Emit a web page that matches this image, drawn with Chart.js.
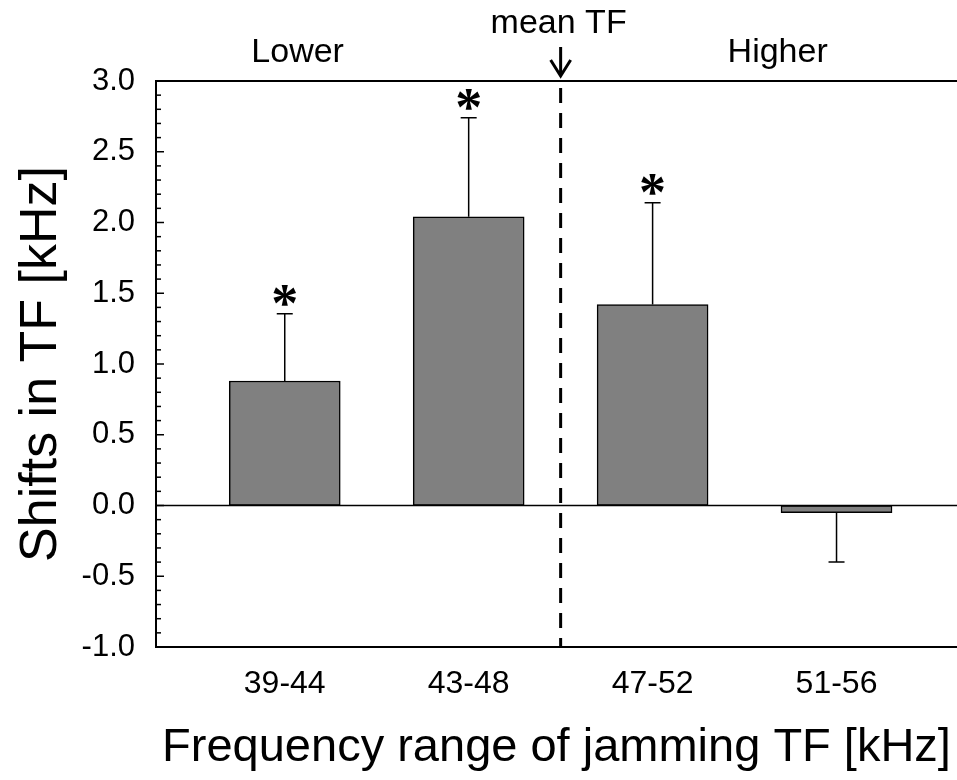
<!DOCTYPE html>
<html>
<head>
<meta charset="utf-8">
<script src="https://cdn.jsdelivr.net/npm/chart.js@4"></script>
<style>
html,body{margin:0;padding:0;background:#fff;}
#wrap{width:957px;height:780px;}
</style>
</head>
<body>
<div id="wrap"><canvas id="c" width="957" height="780"></canvas></div>
<script>
// ---- data ----
const categories = ['39-44', '43-48', '47-52', '51-56'];
const categoryPositions = [1, 2, 3, 4];
const shifts = [0.88, 2.04, 1.42, -0.05];
const errors = [0.475, 0.70, 0.72, 0.35];
const significant = [true, true, true, false];
const yMin = -1.0, yMax = 3.0;
const yMajorStep = 0.5, yMinorStep = 0.1;
const meanTFPosition = 2.5;
const lowerLabel = 'Lower', higherLabel = 'Higher', meanLabel = 'mean TF';
const lowerLabelPos = 1.07, higherLabelPos = 3.68;
const xTitle = 'Frequency range of jamming TF [kHz]';
const yTitle = 'Shifts in TF [kHz]';

const FONT = 'Liberation Sans, Arial, sans-serif';

const decor = {
  id: 'decor',
  afterDatasetsDraw(chart) {
    const {ctx, chartArea: a, scales: {x, y}} = chart;
    ctx.save();
    ctx.strokeStyle = '#000';
    ctx.fillStyle = '#000';
    // top frame line
    ctx.lineWidth = 2;
    ctx.beginPath(); ctx.moveTo(a.left, a.top); ctx.lineTo(a.right, a.top); ctx.stroke();
    // zero line
    const y0 = y.getPixelForValue(0);
    ctx.lineWidth = 1.5;
    ctx.beginPath(); ctx.moveTo(a.left, y0); ctx.lineTo(a.right, y0); ctx.stroke();
    // inner y ticks
    y.ticks.forEach(t => {
      const v = t.value;
      const py = y.getPixelForValue(v);
      const major = Math.abs(v / yMajorStep - Math.round(v / yMajorStep)) < 1e-6;
      if (py <= a.top + 1 || py >= a.bottom - 1) return;
      ctx.lineWidth = 1.5;
      ctx.beginPath(); ctx.moveTo(a.left, py); ctx.lineTo(a.left + (major ? 8 : 5), py); ctx.stroke();
    });
    // error bars
    const meta = chart.getDatasetMeta(0);
    meta.data.forEach((bar, i) => {
      const v = shifts[i];
      const end = v >= 0 ? v + errors[i] : v - errors[i];
      const px = x.getPixelForValue(categoryPositions[i]);
      const pv = y.getPixelForValue(v);
      const pe = y.getPixelForValue(end);
      ctx.lineWidth = 1.5;
      ctx.beginPath();
      ctx.moveTo(px, pv); ctx.lineTo(px, pe);
      ctx.moveTo(px - 8, pe); ctx.lineTo(px + 8, pe);
      ctx.stroke();
      if (significant[i]) {
        ctx.font = 'bold 54px "Liberation Serif", "Times New Roman", serif';
        ctx.textAlign = 'center';
        ctx.textBaseline = 'alphabetic';
        const m = ctx.measureText('*');
        const cy = pe - 18;
        const base = cy + (m.actualBoundingBoxAscent - m.actualBoundingBoxDescent) / 2;
        ctx.fillText('*', px, base);
      }
    });
    // dashed mean TF line
    const mx = x.getPixelForValue(meanTFPosition);
    ctx.lineWidth = 3;
    ctx.setLineDash([15, 10]);
    ctx.beginPath(); ctx.moveTo(mx, a.top + 7); ctx.lineTo(mx, a.bottom); ctx.stroke();
    ctx.setLineDash([]);
    // arrow
    ctx.lineWidth = 3;
    ctx.beginPath();
    ctx.moveTo(mx, a.top - 34); ctx.lineTo(mx, a.top - 5);
    ctx.moveTo(mx - 10, a.top - 21); ctx.lineTo(mx, a.top - 5); ctx.lineTo(mx + 10, a.top - 21);
    ctx.stroke();
    // annotations
    ctx.font = '34px ' + FONT;
    ctx.textAlign = 'center';
    ctx.textBaseline = 'middle';
    ctx.fillText(meanLabel, mx - 2, a.top - 57);
    ctx.fillText(lowerLabel, x.getPixelForValue(lowerLabelPos), a.top - 28);
    ctx.fillText(higherLabel, x.getPixelForValue(higherLabelPos), a.top - 28);
    ctx.restore();
  }
};

new Chart(document.getElementById('c'), {
  type: 'bar',
  data: {
    datasets: [{
      data: categoryPositions.map((p, i) => ({x: p, y: shifts[i]})),
      backgroundColor: '#808080',
      borderColor: '#000',
      borderWidth: 1.5,
      borderSkipped: false,
      barThickness: 111
    }]
  },
  options: {
    responsive: false,
    animation: false,
    devicePixelRatio: 1,
    layout: {padding: {top: 81, left: 0, right: 0, bottom: 0}},
    plugins: {legend: {display: false}, tooltip: {enabled: false}},
    scales: {
      x: {
        type: 'linear',
        offset: false,
        min: 0.3,
        max: 4.655,
        afterBuildTicks(s) { s.ticks = categoryPositions.map(v => ({value: v})); },
        afterFit(s) { s.height = 133; },
        ticks: {
          callback: v => categories[categoryPositions.indexOf(v)] ?? '',
          font: {family: FONT, size: 32},
          color: '#000',
          padding: 18,
          maxRotation: 0,
          autoSkip: false
        },
        grid: {display: false, drawTicks: false, offset: false},
        border: {display: true, color: '#000', width: 2},
        title: {display: true, text: xTitle, font: {family: FONT, size: 47}, color: '#000', padding: {top: 0, bottom: 4}}
      },
      y: {
        min: yMin,
        max: yMax,
        afterBuildTicks(s) {
          const t = [];
          for (let k = 0; k <= Math.round((yMax - yMin) / yMinorStep); k++) t.push({value: +(yMin + k * yMinorStep).toFixed(2)});
          s.ticks = t;
        },
        afterFit(s) { s.width = 156; },
        ticks: {
          callback: v => (Math.abs(v / yMajorStep - Math.round(v / yMajorStep)) < 1e-6 ? v.toFixed(1) : ''),
          font: {family: FONT, size: 31},
          color: '#000',
          padding: 21,
          autoSkip: false
        },
        grid: {display: false, drawTicks: false},
        border: {display: true, color: '#000', width: 2},
        title: {display: true, text: yTitle, font: {family: FONT, size: 52}, color: '#000', padding: {top: 10, bottom: 0}}
      }
    }
  },
  plugins: [decor]
});
</script>
</body>
</html>
